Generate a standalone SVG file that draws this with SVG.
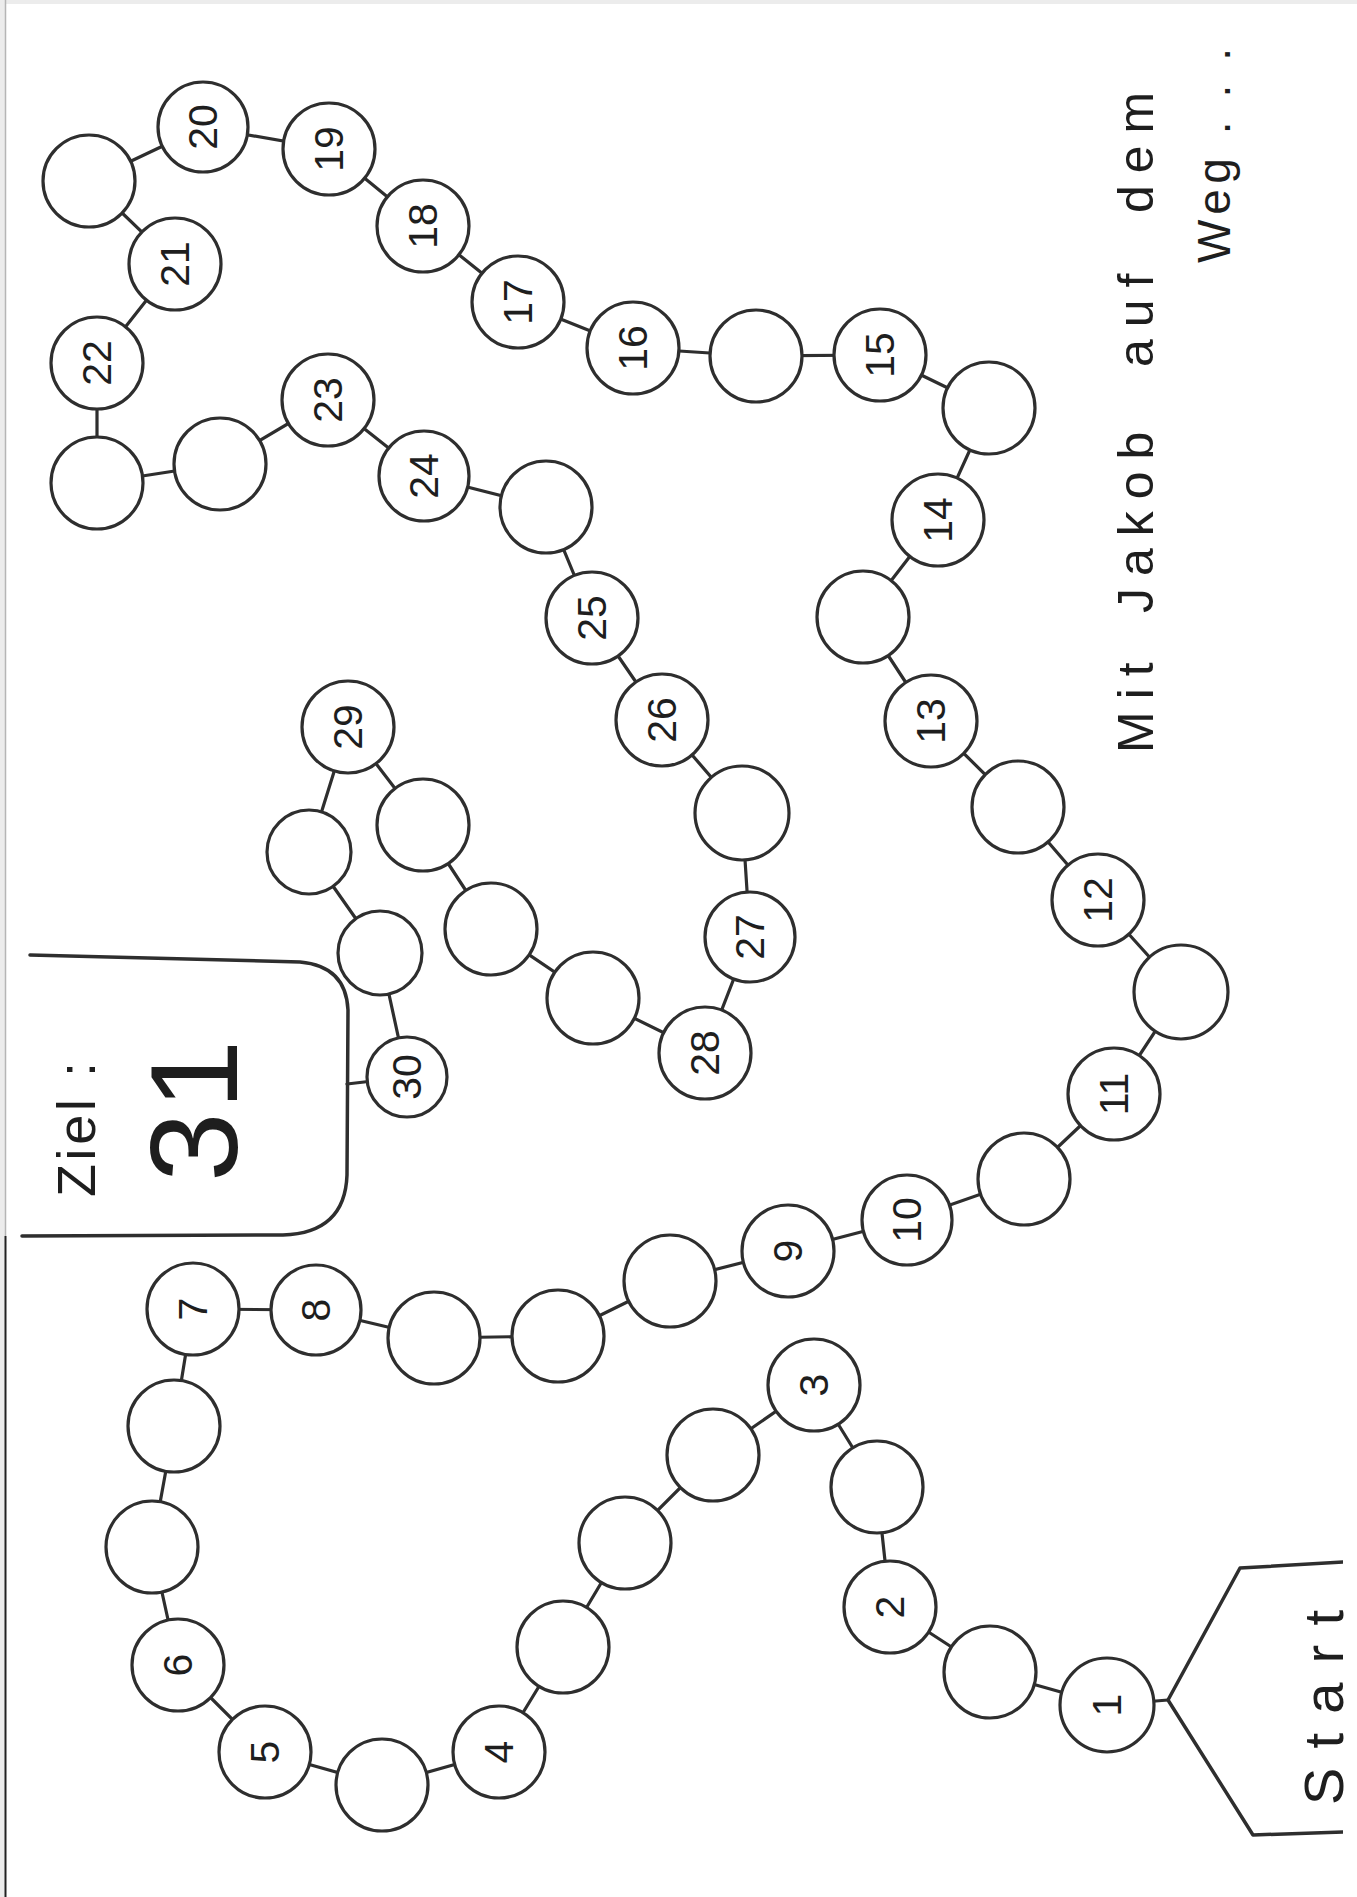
<svg xmlns="http://www.w3.org/2000/svg" width="1357" height="1897" viewBox="0 0 1357 1897">
<defs>
<style>
.bg{fill:#fff}
.edge{fill:#ececec}
.cn{fill:none;stroke:#2e2e2e;stroke-width:3.2;stroke-linecap:round;stroke-linejoin:round}
.c{fill:#fff;stroke:#2e2e2e;stroke-width:3.2}
.n{font-family:"Liberation Sans",Arial,sans-serif;font-size:41px;fill:#1e1e1e;text-anchor:middle;dominant-baseline:central}
.t{font-family:"Liberation Sans",Arial,sans-serif;fill:#1e1e1e}
.shape{fill:none;stroke:#2e2e2e;stroke-width:3.5;stroke-linejoin:round;stroke-linecap:round}
</style>
<clipPath id="page"><rect x="0" y="0" width="1343" height="1897"/></clipPath>
</defs>
<rect class="bg" x="0" y="0" width="1357" height="1897"/>
<rect class="edge" x="0" y="0" width="5" height="1897"/>
<rect class="edge" x="0" y="0" width="1357" height="4"/>
<line x1="5.5" y1="0" x2="5.5" y2="1236" stroke="#b5b5b5" stroke-width="1.5"/>
<line x1="5.5" y1="1236" x2="5.5" y2="1897" stroke="#222" stroke-width="2"/>

<g id="connectors">
<polyline class="cn" points="1168,1700 1107,1705 990,1672 890,1607 877,1487 814,1385 713,1455 625,1543 563,1647 499,1752 382,1785 265,1752 178,1665 152,1547 174,1426 193,1309 316,1310 434,1338 558,1336 670,1281 788,1251 907,1220 1024,1179 1114,1094 1181,992 1098,900 1018,807 931,721 863,617 938,520 989,408 880,355 756,356 633,348 518,302 423,226 329,149 203,127 89,181 175,264 97,363 97,483 220,464 328,400 424,476 546,507 592,618 662,720 742,813 750,937 705,1053 593,998 491,929 423,825 348,727 309,852 380,953 407,1077 347,1084"/>
</g>

<g id="start">
<g clip-path="url(#page)">
<path class="shape" d="M1343 1562 L1240 1568 L1168 1700 L1253 1835 L1343 1832"/>
</g>
<text class="t" font-size="56" transform="translate(1343,1805) rotate(-90)" textLength="195" lengthAdjust="spacing">Start</text>
</g>

<g id="ziel">
<path class="shape" d="M30 955 L300 962 Q346 966 348 1010 L347 1175 Q345 1233 283 1235 L22 1236"/>
<text class="t" font-size="54" transform="translate(95,1197) rotate(-90)" textLength="135" lengthAdjust="spacing">Ziel :</text>
<text class="t" font-size="125" transform="translate(237,1182) rotate(-90)" textLength="142" lengthAdjust="spacing">31</text>
</g>

<g id="n1"><circle class="c" cx="1107" cy="1705" r="47"/><text class="n" x="1107" y="1705" transform="rotate(-90 1107 1705)">1</text></g>
<g id="f1"><circle class="c" cx="990" cy="1672" r="46"/></g>
<g id="n2"><circle class="c" cx="890" cy="1607" r="46"/><text class="n" x="890" y="1607" transform="rotate(-90 890 1607)">2</text></g>
<g id="f2"><circle class="c" cx="877" cy="1487" r="46"/></g>
<g id="n3"><circle class="c" cx="814" cy="1385" r="46"/><text class="n" x="814" y="1385" transform="rotate(-90 814 1385)">3</text></g>
<g id="f3"><circle class="c" cx="713" cy="1455" r="46"/></g>
<g id="f4"><circle class="c" cx="625" cy="1543" r="46"/></g>
<g id="f5"><circle class="c" cx="563" cy="1647" r="46"/></g>
<g id="n4"><circle class="c" cx="499" cy="1752" r="46"/><text class="n" x="499" y="1752" transform="rotate(-90 499 1752)">4</text></g>
<g id="f6"><circle class="c" cx="382" cy="1785" r="46"/></g>
<g id="n5"><circle class="c" cx="265" cy="1752" r="46"/><text class="n" x="265" y="1752" transform="rotate(-90 265 1752)">5</text></g>
<g id="n6"><circle class="c" cx="178" cy="1665" r="46"/><text class="n" x="178" y="1665" transform="rotate(-90 178 1665)">6</text></g>
<g id="f7"><circle class="c" cx="152" cy="1547" r="46"/></g>
<g id="f8"><circle class="c" cx="174" cy="1426" r="46"/></g>
<g id="n7"><circle class="c" cx="193" cy="1309" r="46"/><text class="n" x="193" y="1309" transform="rotate(-90 193 1309)">7</text></g>
<g id="n8"><circle class="c" cx="316" cy="1310" r="45"/><text class="n" x="316" y="1310" transform="rotate(-90 316 1310)">8</text></g>
<g id="f9"><circle class="c" cx="434" cy="1338" r="46"/></g>
<g id="f10"><circle class="c" cx="558" cy="1336" r="46"/></g>
<g id="f11"><circle class="c" cx="670" cy="1281" r="46"/></g>
<g id="n9"><circle class="c" cx="788" cy="1251" r="46"/><text class="n" x="788" y="1251" transform="rotate(-90 788 1251)">9</text></g>
<g id="n10"><circle class="c" cx="907" cy="1220" r="45"/><text class="n" x="907" y="1220" transform="rotate(-90 907 1220)">10</text></g>
<g id="f12"><circle class="c" cx="1024" cy="1179" r="46"/></g>
<g id="n11"><circle class="c" cx="1114" cy="1094" r="46"/><text class="n" x="1114" y="1094" transform="rotate(-90 1114 1094)">11</text></g>
<g id="f13"><circle class="c" cx="1181" cy="992" r="47"/></g>
<g id="n12"><circle class="c" cx="1098" cy="900" r="46"/><text class="n" x="1098" y="900" transform="rotate(-90 1098 900)">12</text></g>
<g id="f14"><circle class="c" cx="1018" cy="807" r="46"/></g>
<g id="n13"><circle class="c" cx="931" cy="721" r="46"/><text class="n" x="931" y="721" transform="rotate(-90 931 721)">13</text></g>
<g id="f15"><circle class="c" cx="863" cy="617" r="46"/></g>
<g id="n14"><circle class="c" cx="938" cy="520" r="46"/><text class="n" x="938" y="520" transform="rotate(-90 938 520)">14</text></g>
<g id="f16"><circle class="c" cx="989" cy="408" r="46"/></g>
<g id="n15"><circle class="c" cx="880" cy="355" r="46"/><text class="n" x="880" y="355" transform="rotate(-90 880 355)">15</text></g>
<g id="f17"><circle class="c" cx="756" cy="356" r="46"/></g>
<g id="n16"><circle class="c" cx="633" cy="348" r="46"/><text class="n" x="633" y="348" transform="rotate(-90 633 348)">16</text></g>
<g id="n17"><circle class="c" cx="518" cy="302" r="46"/><text class="n" x="518" y="302" transform="rotate(-90 518 302)">17</text></g>
<g id="n18"><circle class="c" cx="423" cy="226" r="46"/><text class="n" x="423" y="226" transform="rotate(-90 423 226)">18</text></g>
<g id="n19"><circle class="c" cx="329" cy="149" r="46"/><text class="n" x="329" y="149" transform="rotate(-90 329 149)">19</text></g>
<g id="n20"><circle class="c" cx="203" cy="127" r="45"/><text class="n" x="203" y="127" transform="rotate(-90 203 127)">20</text></g>
<g id="f18"><circle class="c" cx="89" cy="181" r="46"/></g>
<g id="n21"><circle class="c" cx="175" cy="264" r="46"/><text class="n" x="175" y="264" transform="rotate(-90 175 264)">21</text></g>
<g id="n22"><circle class="c" cx="97" cy="363" r="46"/><text class="n" x="97" y="363" transform="rotate(-90 97 363)">22</text></g>
<g id="f19"><circle class="c" cx="97" cy="483" r="46"/></g>
<g id="f20"><circle class="c" cx="220" cy="464" r="46"/></g>
<g id="n23"><circle class="c" cx="328" cy="400" r="46"/><text class="n" x="328" y="400" transform="rotate(-90 328 400)">23</text></g>
<g id="n24"><circle class="c" cx="424" cy="476" r="45"/><text class="n" x="424" y="476" transform="rotate(-90 424 476)">24</text></g>
<g id="f21"><circle class="c" cx="546" cy="507" r="46"/></g>
<g id="n25"><circle class="c" cx="592" cy="618" r="46"/><text class="n" x="592" y="618" transform="rotate(-90 592 618)">25</text></g>
<g id="n26"><circle class="c" cx="662" cy="720" r="46"/><text class="n" x="662" y="720" transform="rotate(-90 662 720)">26</text></g>
<g id="f22"><circle class="c" cx="742" cy="813" r="47"/></g>
<g id="n27"><circle class="c" cx="750" cy="937" r="45"/><text class="n" x="750" y="937" transform="rotate(-90 750 937)">27</text></g>
<g id="n28"><circle class="c" cx="705" cy="1053" r="46"/><text class="n" x="705" y="1053" transform="rotate(-90 705 1053)">28</text></g>
<g id="f23"><circle class="c" cx="593" cy="998" r="46"/></g>
<g id="f24"><circle class="c" cx="491" cy="929" r="46"/></g>
<g id="f25"><circle class="c" cx="423" cy="825" r="46"/></g>
<g id="n29"><circle class="c" cx="348" cy="727" r="46"/><text class="n" x="348" y="727" transform="rotate(-90 348 727)">29</text></g>
<g id="f26"><circle class="c" cx="309" cy="852" r="42"/></g>
<g id="f27"><circle class="c" cx="380" cy="953" r="42"/></g>
<g id="n30"><circle class="c" cx="407" cy="1077" r="40"/><text class="n" x="407" y="1077" transform="rotate(-90 407 1077)">30</text></g>

<g id="title">
<text class="t" font-size="50" letter-spacing="12" transform="translate(1153,753) rotate(-90)"><tspan x="0">Mit</tspan> <tspan x="140">Jakob</tspan> <tspan x="386">auf</tspan> <tspan x="540">dem</tspan></text>
<text class="t" font-size="46" transform="translate(1230,263) rotate(-90)" textLength="215" lengthAdjust="spacing">Weg . . .</text>
</g>
</svg>
